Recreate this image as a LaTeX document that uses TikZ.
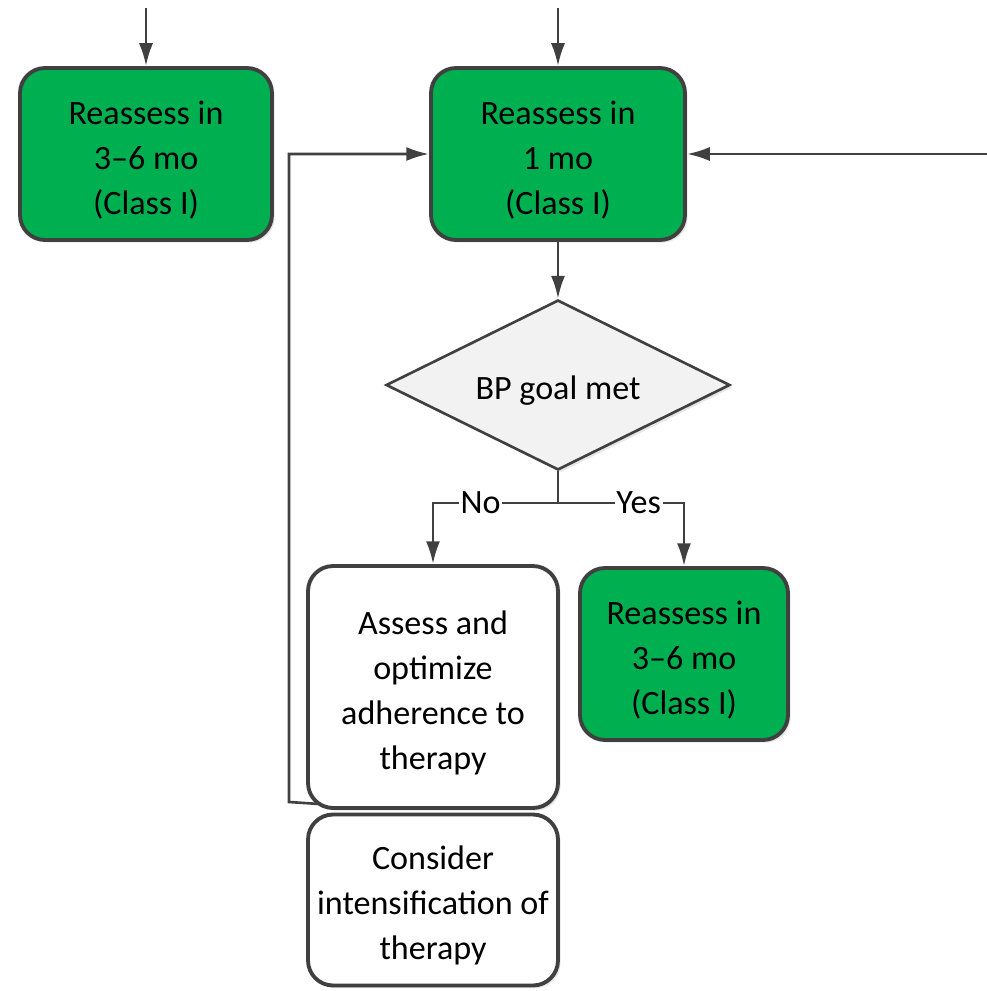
\documentclass[tikz,border=0pt]{standalone}
\usepackage{fontspec}
\setmainfont{Carlito}
\usepackage{tikz}
\definecolor{bordergray}{RGB}{64,64,64}
\definecolor{okgreen}{RGB}{0,176,80}
\definecolor{paleg}{RGB}{242,242,242}
\usetikzlibrary{shapes}
\usetikzlibrary{shadows}
\usetikzlibrary{arrows.meta}
\usetikzlibrary{positioning}
\newcommand{\topstrut}{\rule{0pt}{20pt}}
\tikzset{block/.style={rectangle,draw=bordergray,fill=white,line width=2.2pt,rounded corners=0.5cm,text centered,align=center,inner sep=0pt,font=\fontsize{19.4}{25.6}\selectfont,drop shadow={shadow xshift=1.5pt,shadow yshift=-1.5pt,opacity=0.2}}}
\tikzset{goodblock/.style={block,fill=okgreen}}
\tikzset{decision/.style={diamond,aspect=2.02,draw=bordergray,fill=paleg,line width=1.5pt,inner sep=0pt,font=\fontsize{19.4}{25.6}\selectfont,drop shadow={shadow xshift=1.5pt,shadow yshift=-1.5pt,opacity=0.2}}}
\tikzset{line/.style={draw=bordergray,line width=1.5pt,>={Latex[length=13pt,width=8pt]}}}
\tikzset{tag/.style={fill=white,inner sep=1pt,font=\fontsize{19.4}{25.6}\selectfont}}

\begin{document}
\begin{tikzpicture}[x=0.02cm,y=-0.02cm]
  \useasboundingbox (0,0) rectangle (987,991);

  % Boxes
  \node[goodblock,minimum width=5.04cm,minimum height=3.44cm] (reL) at (146,154) {\topstrut Reassess in\\3--6 mo\\(Class I)};
  \node[goodblock,minimum width=5.08cm,minimum height=3.44cm] (reC) at (558,154) {\topstrut Reassess in\\1 mo\\(Class I)};
  \node[decision,minimum width=6.88cm,minimum height=3.4cm] (goal) at (558,385) {\topstrut BP goal met};
  \node[block,minimum width=5cm,minimum height=4.84cm] (assess) at (433,687) {\topstrut Assess and\\optimize\\adherence to\\therapy};
  \node[goodblock,minimum width=4.16cm,minimum height=3.44cm] (reR) at (684,654) {\topstrut Reassess in\\3--6 mo\\(Class I)};
  \node[block,minimum width=5cm,minimum height=3.42cm] (intens) at (433,900) {\topstrut Consider\\intensification of\\therapy};

  % Loose ends
  \coordinate (inL) at (146,8);
  \coordinate (inC) at (558,8);
  \coordinate (inR) at (987,154);
  \coordinate (split) at (558,503);
  \coordinate (back) at (289,802);

  % Connectors
  \draw[line,->] (inL) -- (reL);
  \draw[line,->] (inC) -- (reC);
  \draw[line,->] (inR) -- (reC);
  \draw[line,->] (reC) -- (goal);
  \draw[line] (goal) -- (split);
  \draw[line,->] (split) -| node[tag,pos=0.31]{No} (assess);
  \draw[line,->] (split) -| node[tag,pos=0.32]{Yes} (reR);
  \draw[line,->] ([shift={(0.24cm,0.12cm)}]assess.south west) -- (back) |- (reC);
\end{tikzpicture}
\end{document}
